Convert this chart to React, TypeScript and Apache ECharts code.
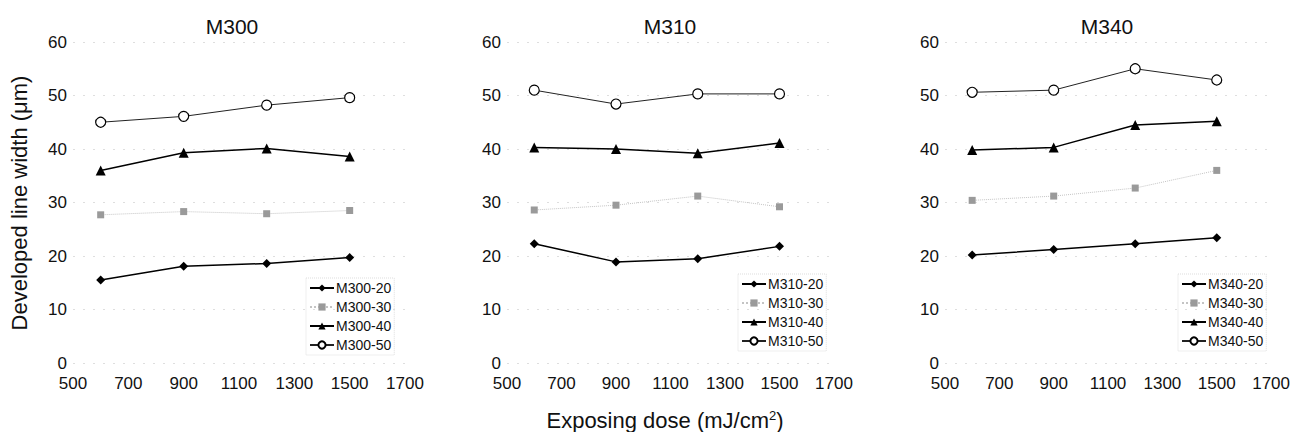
import React, { useEffect, useRef } from "react";
import * as echarts from "echarts";

const doses = [600, 900, 1200, 1500];
const panelNames = ["M300", "M310", "M340"];
const seriesSuffixes = ["20", "30", "40", "50"];
const xTicks = [500, 1700, 200];
const yTicks = [0, 60, 10];

const m300_20 = [15.5, 18.1, 18.6, 19.7];
const m300_30 = [27.7, 28.3, 27.9, 28.5];
const m300_40 = [36.0, 39.3, 40.1, 38.6];
const m300_50 = [45.0, 46.1, 48.2, 49.6];

const m310_20 = [22.3, 18.9, 19.5, 21.8];
const m310_30 = [28.6, 29.5, 31.2, 29.2];
const m310_40 = [40.3, 40.0, 39.2, 41.1];
const m310_50 = [51.0, 48.4, 50.3, 50.3];

const m340_20 = [20.2, 21.2, 22.3, 23.4];
const m340_30 = [30.4, 31.2, 32.7, 36.0];
const m340_40 = [39.8, 40.3, 44.5, 45.2];
const m340_50 = [50.6, 51.0, 55.0, 52.9];

const panelData = [
  [m300_20, m300_30, m300_40, m300_50],
  [m310_20, m310_30, m310_40, m310_50],
  [m340_20, m340_30, m340_40, m340_50],
];

const FONT = "Liberation Sans, Arial, sans-serif";

export default function App() {
  const ref = useRef<HTMLDivElement>(null);
  useEffect(() => {
    if (!ref.current) return;
    const chart = echarts.init(ref.current, null, { renderer: "svg" });
    const grids = [
      { left: 73, width: 332 },
      { left: 507, width: 327 },
      { left: 945, width: 327 },
    ];
    const legendPos = [
      { left: 306, top: 278 },
      { left: 738, top: 274 },
      { left: 1178, top: 274 },
    ];
    const titleX = [227, 665, 1102];

    const styles = [
      { symbol: "diamond", size: 9, color: "#000", line: { color: "#000", width: 1.5, type: "solid" }, border: "#000" },
      { symbol: "rect", size: 7, color: "#9a9a9a", line: { color: "#c4c4c4", width: 1, type: "dotted" }, border: "#9a9a9a" },
      { symbol: "triangle", size: 10, color: "#000", line: { color: "#000", width: 1.5, type: "solid" }, border: "#000" },
      { symbol: "circle", size: 10, color: "#fff", line: { color: "#222", width: 1, type: "solid" }, border: "#000" },
    ];

    const series: any[] = [];
    panelData.forEach((arrs, pi) => {
      arrs.forEach((vals, si) => {
        const st = styles[si];
        series.push({
          type: "line",
          name: `${panelNames[pi]}-${seriesSuffixes[si]}`,
          xAxisIndex: pi,
          yAxisIndex: pi,
          data: doses.map((d, i) => [d, vals[i]]),
          symbol: st.symbol,
          symbolSize: st.size,
          showAllSymbol: true,
          lineStyle: st.line,
          itemStyle: { color: st.color, borderColor: st.border, borderWidth: si === 3 ? 1.2 : 0 },
          z: 5 - si,
        });
      });
    });

    chart.setOption({
      animation: false,
      backgroundColor: "#fff",
      title: panelNames.map((n, i) => ({
        text: n,
        left: titleX[i],
        top: 11,
        textAlign: "center",
        textStyle: { fontFamily: FONT, fontSize: 21, fontWeight: "normal", color: "#111" },
      })),
      grid: grids.map((g) => ({ left: g.left, width: g.width, top: 42, height: 321 })),
      xAxis: grids.map((_, i) => ({
        type: "value",
        gridIndex: i,
        min: xTicks[0],
        max: xTicks[1],
        interval: xTicks[2],
        axisLine: { show: false },
        axisTick: { show: false },
        splitLine: { show: false },
        axisLabel: {
          fontFamily: FONT,
          fontSize: 17,
          color: "#111",
          margin: 12,
          formatter: (v: number) => String(v),
        },
      })),
      yAxis: grids.map((_, i) => ({
        type: "value",
        gridIndex: i,
        min: yTicks[0],
        max: yTicks[1],
        interval: yTicks[2],
        axisLine: { show: false },
        axisTick: { show: false },
        splitLine: { show: true, lineStyle: { color: "#dedede", type: [2, 8], width: 1 } },
        axisLabel: { fontFamily: FONT, fontSize: 17, color: "#111", margin: 6 },
      })),
      legend: panelNames.map((n, i) => ({
        orient: "vertical",
        left: legendPos[i].left,
        top: legendPos[i].top,
        data: seriesSuffixes.map((s) => `${n}-${s}`),
        itemWidth: 24,
        itemHeight: 9,
        itemGap: 5,
        padding: [3, 3, 3, 3],
        borderColor: "#dddddd",
        borderWidth: 1,
        borderType: "dotted",
        textStyle: { fontFamily: FONT, fontSize: 14, color: "#111", padding: [0, 0, 0, -3] },
      })),
      graphic: [
        {
          type: "text",
          x: 19,
          y: 203,
          rotation: Math.PI / 2,
          style: {
            text: "Developed line width (μm)",
            fontFamily: FONT,
            fontSize: 22,
            fill: "#111",
            align: "center",
            verticalAlign: "middle",
          },
        },
        {
          type: "text",
          x: 665,
          y: 420,
          style: {
            text: "Exposing dose (mJ/cm{sup|2})",
            fontFamily: FONT,
            fontSize: 22,
            fill: "#111",
            align: "center",
            verticalAlign: "middle",
            rich: {
              sup: { fontFamily: FONT, fontSize: 13, fill: "#111", verticalAlign: "top", padding: [0, 0, 9, 0] },
            },
          },
        },
      ],
      series,
    });
    return () => chart.dispose();
  }, []);
  return (
    <div
      ref={ref}
      style={{ position: "fixed", left: 0, top: 0, width: 1293, height: 432, background: "#fff" }}
    />
  );
}
